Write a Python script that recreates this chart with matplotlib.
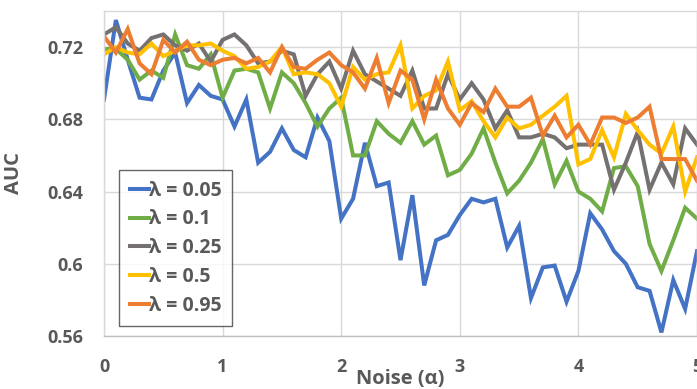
import numpy as np
import matplotlib
matplotlib.use("Agg")
import matplotlib.pyplot as plt

plt.rcParams['font.family'] = ['Open Sans', 'DejaVu Sans']

# noise levels 0.0 .. 5.0
noise = np.round(np.arange(0, 5.01, 0.1), 1)

auc_005 = [0.691, 0.735, 0.713, 0.692, 0.691, 0.707, 0.717, 0.689, 0.699, 0.693,
           0.691, 0.676, 0.691, 0.656, 0.662, 0.675, 0.663, 0.659, 0.681, 0.668,
           0.625, 0.636, 0.667, 0.643, 0.645, 0.602, 0.638, 0.588, 0.613, 0.616,
           0.627, 0.636, 0.634, 0.636, 0.609, 0.621, 0.581, 0.598, 0.599, 0.579,
           0.596, 0.628, 0.619, 0.607, 0.600, 0.587, 0.585, 0.562, 0.591, 0.575,
           0.607]
auc_01 = [0.719, 0.719, 0.713, 0.702, 0.707, 0.703, 0.727, 0.710, 0.708, 0.716,
          0.692, 0.707, 0.708, 0.706, 0.686, 0.706, 0.700, 0.689, 0.676, 0.686,
          0.692, 0.660, 0.660, 0.679, 0.672, 0.667, 0.679, 0.666, 0.671, 0.649,
          0.652, 0.661, 0.675, 0.656, 0.639, 0.646, 0.656, 0.669, 0.644, 0.657,
          0.640, 0.636, 0.629, 0.653, 0.654, 0.643, 0.611, 0.596, 0.613, 0.631,
          0.625]
auc_025 = [0.727, 0.731, 0.722, 0.718, 0.725, 0.727, 0.721, 0.718, 0.722, 0.712,
           0.724, 0.727, 0.721, 0.711, 0.712, 0.718, 0.716, 0.693, 0.705, 0.712,
           0.697, 0.718, 0.705, 0.701, 0.697, 0.693, 0.707, 0.686, 0.686, 0.705,
           0.691, 0.700, 0.691, 0.675, 0.685, 0.670, 0.670, 0.672, 0.670, 0.664,
           0.666, 0.666, 0.666, 0.641, 0.656, 0.673, 0.641, 0.656, 0.644, 0.675,
           0.666]
auc_05 = [0.716, 0.720, 0.717, 0.716, 0.722, 0.715, 0.718, 0.721, 0.721, 0.722,
          0.718, 0.715, 0.708, 0.709, 0.712, 0.720, 0.705, 0.706, 0.705, 0.700,
          0.687, 0.709, 0.702, 0.705, 0.706, 0.721, 0.686, 0.693, 0.696, 0.712,
          0.685, 0.690, 0.679, 0.670, 0.681, 0.675, 0.677, 0.682, 0.687, 0.693,
          0.655, 0.658, 0.674, 0.659, 0.683, 0.674, 0.666, 0.661, 0.676, 0.640,
          0.659]
auc_095 = [0.726, 0.717, 0.730, 0.711, 0.705, 0.724, 0.717, 0.723, 0.713, 0.710,
           0.713, 0.714, 0.711, 0.714, 0.706, 0.720, 0.709, 0.708, 0.713, 0.717,
           0.710, 0.706, 0.697, 0.714, 0.689, 0.707, 0.702, 0.680, 0.702, 0.686,
           0.677, 0.689, 0.684, 0.697, 0.687, 0.687, 0.692, 0.671, 0.682, 0.670,
           0.677, 0.666, 0.681, 0.681, 0.678, 0.681, 0.687, 0.658, 0.658, 0.658,
           0.646]

labels = ['λ = 0.05', 'λ = 0.1', 'λ = 0.25', 'λ = 0.5', 'λ = 0.95']
colors = ['#4472C4', '#70AD47', '#767171', '#FFC000', '#ED7D31']
series = [auc_005, auc_01, auc_025, auc_05, auc_095]

yticks = [0.56, 0.6, 0.64, 0.68, 0.72]
ytick_labels = ['0.56', '0.6', '0.64', '0.68', '0.72']
xticks = [0, 1, 2, 3, 4, 5]

txt = '#595959'
grid = '#D9D9D9'
fs = 13

fig = plt.figure(figsize=(6.97, 3.89), dpi=100)
ax = fig.add_axes([104/697, 1-336/389, 1-104/697, 325/389])

for vals, c, lab in zip(series, colors, labels):
    ax.plot(noise, vals, color=c, lw=2.9, label=lab, solid_joinstyle='miter')

ax.set_xlim(0, 5)
ax.set_ylim(0.56, 0.74)
ax.set_xticks(xticks)
ax.set_yticks(yticks)
ax.set_yticklabels(ytick_labels)
ax.grid(True, color=grid, lw=1)
ax.set_axisbelow(True)
for s in ax.spines.values():
    s.set_color(grid)
    s.set_linewidth(1)
ax.spines['bottom'].set_color('#BFBFBF')
ax.tick_params(length=0, labelsize=fs, labelcolor=txt)
ax.tick_params(axis='y', pad=15)
ax.tick_params(axis='x', pad=16)
for t in ax.get_xticklabels() + ax.get_yticklabels():
    t.set_fontweight('bold')

ax.set_xlabel('Noise (α)', fontsize=14.5, fontweight='bold', color=txt)
ax.xaxis.set_label_coords(0.5, -0.102)
ax.xaxis.label.set_va('top')
ax.set_ylabel('AUC', fontsize=14.5, fontweight='bold', color=txt)
ax.yaxis.set_label_coords(-0.135, 0.5)

leg = ax.legend(loc='lower left', bbox_to_anchor=(0.025, 0.03), fontsize=14,
                handlelength=1.0, handletextpad=0.0, labelspacing=0.45,
                borderpad=0.55, frameon=True, fancybox=False, borderaxespad=0)
leg.get_frame().set_edgecolor('#404040')
leg.get_frame().set_linewidth(1)
for t in leg.get_texts():
    t.set_color(txt)
    t.set_fontweight('bold')

fig.savefig('out.png', dpi=100)
